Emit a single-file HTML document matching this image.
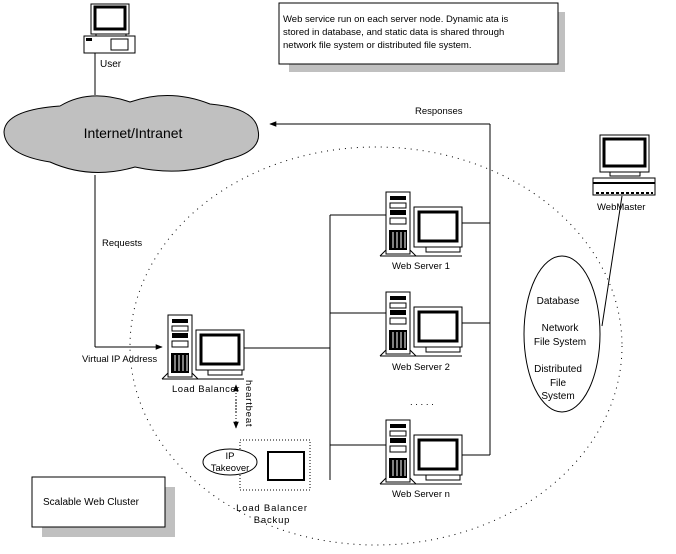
<!DOCTYPE html>
<html><head><meta charset="utf-8"><style>
body{margin:0;background:#fff}
svg{display:block;font-family:"Liberation Sans",sans-serif}
</style></head><body>
<svg width="676" height="554" viewBox="0 0 676 554" xmlns="http://www.w3.org/2000/svg">
<defs>
<marker id="ar" viewBox="0 0 10 10" refX="9" refY="5" markerWidth="7" markerHeight="7" orient="auto"><path d="M0,1 L10,5 L0,9z" fill="#000"/></marker>
<g id="srv">
 <rect x="0" y="0" width="24" height="62" fill="#fff" stroke="#000"/>
 <rect x="4" y="4" width="16" height="4" fill="#000"/>
 <rect x="4" y="11" width="16" height="5" fill="none" stroke="#000"/>
 <rect x="4" y="18" width="16" height="5" fill="#000"/>
 <rect x="4" y="26" width="16" height="6" fill="none" stroke="#000"/>
 <rect x="3" y="38" width="18" height="20" fill="#000"/>
 <path d="M7,40v16M11,40v16M15,40v16M19,40v16" stroke="#fff"/>
 <rect x="28" y="15" width="48" height="40" fill="#fff" stroke="#000"/>
 <rect x="33" y="20" width="38" height="29" fill="#fff" stroke="#000" stroke-width="3"/>
 <rect x="40" y="55" width="34" height="5" fill="#fff" stroke="#000"/>
 <path d="M-6,64 L0,58 M24,58 L30,64 M-6,64 H76" stroke="#000" fill="none"/>
</g>
</defs>
<rect x="289" y="12" width="276" height="60" fill="#c0c0c0"/>
<rect x="279" y="3" width="279" height="61" fill="#fff" stroke="#000"/>
<text font-size="9.5" fill="#000"><tspan x="283" y="22">Web service run on each server node. Dynamic ata is</tspan><tspan x="283" y="35">stored in database, and static data is shared through</tspan><tspan x="283" y="48">network file system or distributed file system.</tspan></text>
<rect x="91" y="4" width="38" height="30" fill="#fff" stroke="#000"/>
<rect x="95" y="7" width="30" height="22" fill="#fff" stroke="#000" stroke-width="3"/>
<rect x="96" y="34" width="30" height="3" fill="#fff" stroke="#000"/>
<rect x="84" y="36" width="51" height="17" fill="#fff" stroke="#000"/>
<rect x="86" y="38" width="6" height="3" fill="#000"/>
<rect x="111" y="39" width="17" height="11" fill="#fff" stroke="#000"/>
<text x="100" y="67" font-size="10">User</text>
<line x1="95" y1="53" x2="95" y2="95" stroke="#000"/>
<path d="M60,106 Q90,88 130,102 Q170,88 210,104 Q255,108 258,130 Q263,152 225,160 Q185,178 135,167 Q90,180 50,162 Q5,155 4,132 Q5,110 60,106z" fill="#c0c0c0" stroke="#000"/>
<text x="133" y="138" font-size="14" text-anchor="middle">Internet/Intranet</text>
<ellipse cx="376" cy="346" rx="246" ry="199" fill="none" stroke="#000" stroke-dasharray="1 5"/>
<line x1="490" y1="124" x2="270" y2="124" stroke="#000" marker-end="url(#ar)"/>
<text x="415" y="114" font-size="9.5">Responses</text>
<line x1="490" y1="124" x2="490" y2="455" stroke="#000"/>
<line x1="95" y1="175" x2="95" y2="347" stroke="#000"/>
<line x1="95" y1="347" x2="162" y2="347" stroke="#000" marker-end="url(#ar)"/>
<text x="102" y="246" font-size="9.5">Requests</text>
<text x="82" y="362" font-size="9.5">Virtual IP Address</text>
<use href="#srv" x="168" y="315"/>
<text x="172" y="392" font-size="9.5" letter-spacing="0.5">Load Balancer</text>
<line x1="244" y1="348" x2="330" y2="348" stroke="#000"/>
<line x1="330" y1="215" x2="330" y2="480" stroke="#000"/>
<line x1="330" y1="215" x2="386" y2="215" stroke="#000"/>
<line x1="330" y1="313" x2="386" y2="313" stroke="#000"/>
<line x1="330" y1="445" x2="386" y2="445" stroke="#000"/>
<use href="#srv" x="386" y="192"/>
<text x="392" y="269" font-size="9.5">Web Server 1</text>
<line x1="462" y1="223" x2="490" y2="223" stroke="#000"/>
<use href="#srv" x="386" y="292"/>
<text x="392" y="370" font-size="9.5">Web Server 2</text>
<line x1="462" y1="323" x2="490" y2="323" stroke="#000"/>
<text x="410" y="405" font-size="9.5">. . . . .</text>
<use href="#srv" x="386" y="420"/>
<text x="392" y="497" font-size="9.5">Web Server n</text>
<line x1="462" y1="455" x2="490" y2="455" stroke="#000"/>
<line x1="236" y1="412" x2="236" y2="385" stroke="#000" stroke-dasharray="1 2" marker-end="url(#ar)"/>
<line x1="236" y1="400" x2="236" y2="428" stroke="#000" stroke-dasharray="1 2" marker-end="url(#ar)"/>
<text transform="translate(246,380) rotate(90)" font-size="9.5" letter-spacing="0.8">heartbeat</text>
<rect x="240" y="440" width="70" height="50" fill="none" stroke="#000" stroke-dasharray="1 2"/>
<rect x="268" y="452" width="36" height="28" fill="#fff" stroke="#000" stroke-width="2"/>
<ellipse cx="230" cy="462" rx="27" ry="13" fill="#fff" stroke="#000"/>
<text x="230" y="459" font-size="9.5" text-anchor="middle">IP</text>
<text x="230" y="471" font-size="9.5" text-anchor="middle">Takeover</text>
<text x="272" y="511" font-size="9.5" text-anchor="middle" letter-spacing="0.8">Load Balancer</text>
<text x="272" y="523" font-size="9.5" text-anchor="middle" letter-spacing="0.8">Backup</text>
<rect x="42" y="487" width="133" height="50" fill="#c0c0c0"/>
<rect x="32" y="477" width="133" height="50" fill="#fff" stroke="#000"/>
<text x="43" y="505" font-size="10">Scalable Web Cluster</text>
<ellipse cx="562" cy="334" rx="38" ry="78" fill="#fff" stroke="#000"/>
<g font-size="10" text-anchor="middle">
<text x="558" y="304">Database</text>
<text x="560" y="331">Network</text>
<text x="560" y="345">File System</text>
<text x="558" y="372">Distributed</text>
<text x="558" y="386">File</text>
<text x="558" y="399">System</text>
</g>
<rect x="600" y="135" width="49" height="37" fill="#fff" stroke="#000"/>
<rect x="604" y="139" width="41" height="27" fill="#fff" stroke="#000" stroke-width="3"/>
<rect x="610" y="172" width="30" height="4" fill="#fff" stroke="#000"/>
<rect x="593" y="178" width="62" height="17" fill="#fff" stroke="#000"/>
<rect x="593" y="182" width="62" height="2" fill="#000"/>
<path d="M596,193 H653" stroke="#000" stroke-width="2" stroke-dasharray="3 2"/>
<text x="597" y="210" font-size="9.5">WebMaster</text>
<line x1="622" y1="196" x2="602" y2="326" stroke="#000"/>
</svg>
</body></html>
